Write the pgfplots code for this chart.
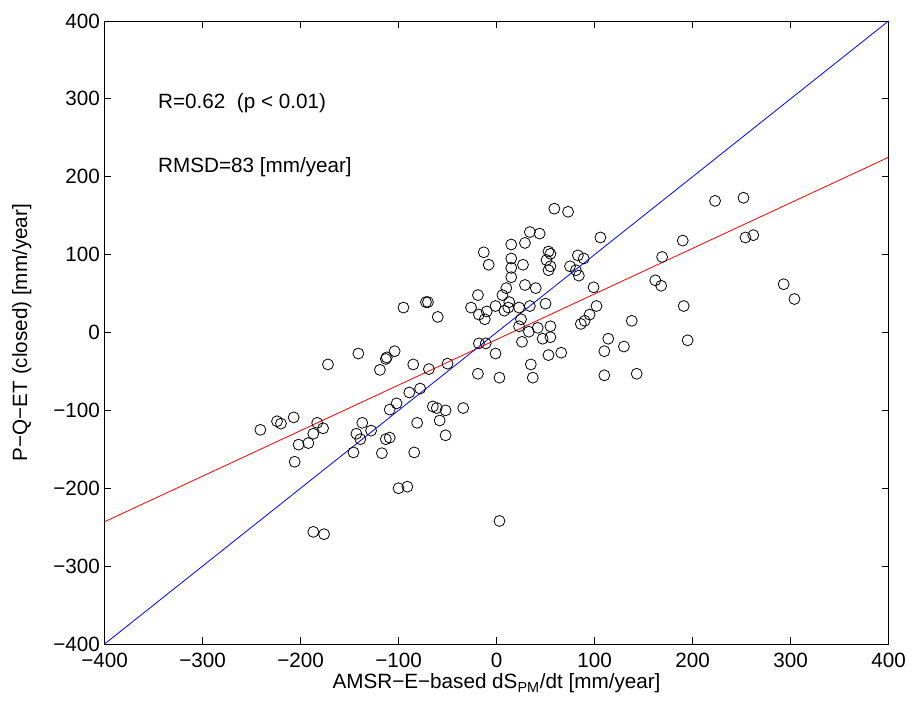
\documentclass[border=0pt]{standalone}
\usepackage{fontspec}
\setmainfont{Liberation Sans}
\usepackage{pgfplots}
\pgfplotsset{compat=1.18}

% storage change: AMSR-E based (x) vs water balance (y), mm/year
\pgfplotstableread{
x y
-19 48
-95 32
-72 39
-70 39
-60 20
-26 32
-18 23
-10 27
-12 17
-1 34
8 28
-18 -14
-11 -14
-1 -27
-19 -53
3 -58
-141 -27
-104 -24
-113 -34
-112 -32
-119 -48
-172 -41
-85 -41
-69 -47
-50 -40
-89 -77
-78 -72
-102 -91
-109 -99
-65 -95
-61 -97
-52 -100
-34 -97
-81 -116
-58 -113
-52 -132
-137 -116
-143 -130
-139 -137
-128 -126
-113 -137
-109 -135
-146 -154
-117 -155
-84 -154
-100 -200
-91 -198
-187 -256
-176 -259
-241 -125
-224 -114
-220 -117
-207 -109
-183 -116
-177 -123
-187 -130
-202 -144
-192 -142
-206 -166
3 -242
59 159
73 155
34 129
44 127
29 115
15 113
106 122
-13 103
53 104
55 101
51 93
15 95
-8 87
27 87
15 83
55 85
53 80
83 99
89 95
75 85
81 80
84 73
15 71
29 61
40 57
10 57
6 48
13 39
12 32
23 32
34 34
50 37
25 17
23 8
33 1
42 6
55 8
47 -8
55 -6
26 -12
53 -29
66 -26
35 -41
37 -58
86 11
90 15
95 23
102 34
99 58
114 -8
110 -24
130 -18
138 15
110 -55
143 -53
162 67
168 60
169 97
190 118
191 34
195 -10
223 169
252 173
254 122
262 125
293 62
304 43
}\scatterdata

\begin{document}
\begin{tikzpicture}
\path[use as bounding box] (-78.4pt,-45.75pt) rectangle (605.6pt,483pt);
\begin{axis}[
  at={(0,0)}, anchor=south west,
  scale only axis,
  width=588pt, height=467.25pt,
  xmin=-400, xmax=400, ymin=-400, ymax=400,
  xtick={-400,-300,...,400},
  ytick={-400,-300,...,400},
  xticklabels={−400,−300,−200,−100,0,100,200,300,400},
  yticklabels={−400,−300,−200,−100,0,100,200,300,400},
  tick align=inside,
  major tick length=5pt,
  tick style={black, line width=0.6pt},
  axis line style={line width=0.6pt},
  every tick label/.append style={font=\fontsize{15.5pt}{18pt}\selectfont},
  label style={font=\fontsize{15.5pt}{18pt}\selectfont},
  xticklabel style={yshift=-3pt},
  xlabel={AMSR−E−based dS\textsubscript{PM}/dt [mm/year]},
  ylabel={P−Q−ET (closed) [mm/year]},
  xlabel style={yshift=2pt},
  ylabel style={yshift=9.5pt},
  clip=true,
]
\addplot[only marks, mark=o, mark size=4.1pt, mark options={draw=black, line width=0.6pt}]
  table[x=x, y=y] {\scatterdata};

% regression line
\addplot[red, line width=0.6pt] coordinates {(-400,-243) (400,225)};
% 1:1 line
\addplot[blue, line width=0.6pt] coordinates {(-400,-400) (400,400)};

\node[anchor=base west, font=\fontsize{15.5pt}{18pt}\selectfont] at (axis cs:-350,288) {R=0.62\ \ (p < 0.01)};
\node[anchor=base west, font=\fontsize{15.5pt}{18pt}\selectfont] at (axis cs:-350,206) {RMSD=83 [mm/year]};
\end{axis}
\end{tikzpicture}
\end{document}
